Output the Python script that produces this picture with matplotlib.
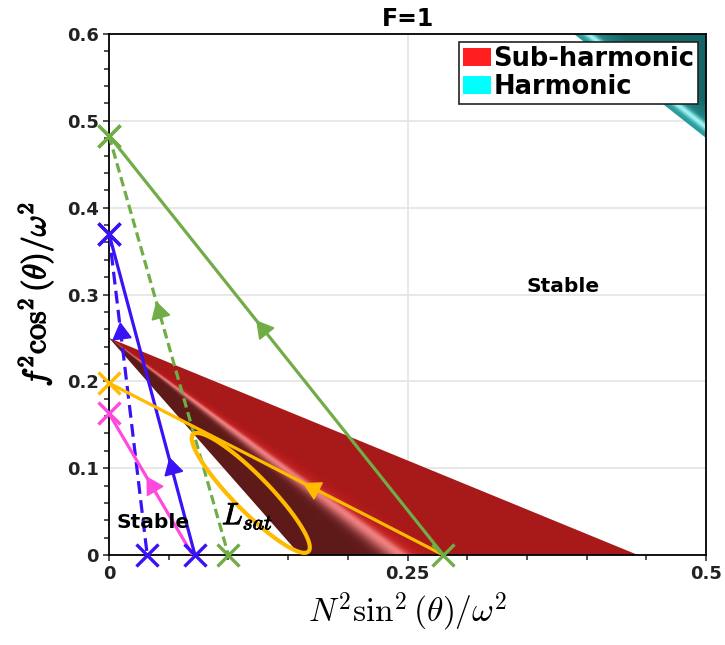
import numpy as np
import matplotlib.pyplot as plt
from matplotlib.patches import Polygon, Patch
import matplotlib.patheffects as pe

plt.rcParams['mathtext.fontset'] = 'cm'

# ---------------------------------------------------------
# DATA
# ---------------------------------------------------------

# sub-harmonic instability wedge (apex on the y axis, base on the x axis)
sub_apex_y = 0.25
sub_base_left = 0.16
sub_base_right = 0.443
sub_ridge = 0.245          # fold line of the shaded surface (where it meets y=0)

# harmonic region in the top right corner (edge line end points)
harm_x = [0.3895, 0.5]
harm_y = [0.6, 0.48]

# trajectories: (x on the x axis, y on the y axis), y of the arrow head
traj_names = ['green', 'green_dash', 'blue', 'blue_dash', 'pink', 'orange']
traj_x0 = [0.28, 0.10, 0.072, 0.032, 0.07, 0.28]
traj_y0 = [0.483, 0.483, 0.37, 0.37, 0.163, 0.198]
traj_arrow_y = [0.26, 0.28, 0.10, 0.256, 0.079, 0.077]
traj_colors = ['#70ad47', '#70ad47', '#3a12f5', '#3a12f5', '#ff48e0', '#ffbb00']
traj_styles = ['-', (0, (3, 1.5)), '-', (0, (4, 2)), '-', '-']

# extra start points on the x axis (marked only)
start_x = [0.032, 0.072, 0.10, 0.28]
start_colors = ['#3a12f5', '#3a12f5', '#70ad47', '#70ad47']

# saturation loop L_sat: two tips of the major axis and half width in px
lsat_tip1 = (0.0705, 0.139)
lsat_tip2 = (0.167, 0.004)
lsat_halfwidth_px = 18

# ---------------------------------------------------------
# FIGURE
# ---------------------------------------------------------

W, H = 725, 645
fig = plt.figure(figsize=(W / 100, H / 100), dpi=100)
ax = fig.add_axes([109 / W, 90 / H, 597 / W, 521 / H])
ax.set_xlim(0, 0.5)
ax.set_ylim(0, 0.6)

px_x = 597 / 0.5
px_y = 521 / 0.6

# grid
for gy in [0.1, 0.2, 0.3, 0.4, 0.5]:
    ax.axhline(gy, color='#e4e4e4', lw=1.2, zorder=0)
ax.axvline(0.25, color='#e4e4e4', lw=1.2, zorder=0)

# ---------------------------------------------------------
# SHADED REGIONS
# ---------------------------------------------------------

xs = np.linspace(0, 0.5, 900)
ys = np.linspace(0, 0.6, 1000)
X, Y = np.meshgrid(xs, ys)

# sub-harmonic: colour depends on where the ray from the apex meets y=0
x0 = X * sub_apex_y / np.maximum(sub_apex_y - Y, 1e-6)
dark = np.array([0.37, 0.10, 0.10])
red = np.array([0.66, 0.10, 0.10])
hi = np.array([0.93, 0.50, 0.50])
d = x0 - sub_ridge
w_lo = np.exp(-(d / 0.014) ** 2)[..., None]
w_hi = np.exp(-(d / 0.007) ** 2)[..., None]
w_red = np.exp(-(np.clip(d, 0, None) / 0.02) ** 2)[..., None]
col_lo = dark * (1 - w_lo) + hi * w_lo
mid_red = np.array([0.80, 0.14, 0.14])
col_hi = (red * (1 - w_red) + mid_red * w_red) * (1 - w_hi) + hi * w_hi
img = np.where((d < 0)[..., None], col_lo, col_hi)
im = ax.imshow(np.clip(img, 0, 1), origin='lower', extent=[0, 0.5, 0, 0.6],
               aspect='auto', interpolation='bilinear', zorder=1)
sub_poly = Polygon([(0, sub_apex_y), (sub_base_left, 0), (sub_base_right, 0)],
                   closed=True, transform=ax.transData, facecolor='none',
                   edgecolor='none')
ax.add_patch(sub_poly)
im.set_clip_path(sub_poly)

# harmonic: colour depends on pixel distance from the edge line
ex = (harm_x[1] - harm_x[0]) * px_x
ey = (harm_y[1] - harm_y[0]) * px_y
L = np.hypot(ex, ey)
dist = ((X - harm_x[0]) * px_x * (-ey) + (Y - harm_y[0]) * px_y * ex) / L
dist = np.abs(dist)
teal = np.array([0.16, 0.62, 0.62])
teal_dk = np.array([0.08, 0.40, 0.40])
cyan_hi = np.array([0.62, 0.96, 0.96])
t = np.clip(dist / 30, 0, 1)[..., None]
hcol = teal * (1 - t) + teal_dk * t
wh = np.exp(-((dist - 9) / 3.5) ** 2)[..., None]
hcol = hcol * (1 - wh) + cyan_hi * wh
im2 = ax.imshow(np.clip(hcol, 0, 1), origin='lower', extent=[0, 0.5, 0, 0.6],
                aspect='auto', interpolation='bilinear', zorder=1)
harm_poly = Polygon([(harm_x[0], harm_y[0]), (0.5, 0.6), (harm_x[1], harm_y[1])],
                    closed=True, transform=ax.transData, facecolor='none',
                    edgecolor='none')
ax.add_patch(harm_poly)
im2.set_clip_path(harm_poly)

# ---------------------------------------------------------
# TRAJECTORIES
# ---------------------------------------------------------

for xa, ya, yarr, c, ls in zip(traj_x0, traj_y0, traj_arrow_y, traj_colors, traj_styles):
    ax.plot([0, xa], [ya, 0], color=c, lw=2.3, linestyle=ls, zorder=3)
    # arrow head pointing from the x-axis end toward the y-axis end
    xarr = xa * (1 - yarr / ya)
    p0 = ax.transData.transform((xa, 0))
    p1 = ax.transData.transform((0, ya))
    ang = np.degrees(np.arctan2(p1[1] - p0[1], p1[0] - p0[0]))
    ax.plot(xarr, yarr, marker=(3, 0, ang - 90), markersize=15, color=c,
            linestyle='none', zorder=4)
    ax.plot(0, ya, marker='x', markersize=16, mew=2.4, color=c,
            linestyle='none', clip_on=False, zorder=5)

for xs0, c in zip(start_x, start_colors):
    ax.plot(xs0, 0, marker='x', markersize=16, mew=2.4, color=c,
            linestyle='none', clip_on=False, zorder=5)

# L_sat loop
c1 = np.array(lsat_tip1)
c2 = np.array(lsat_tip2)
cen = (c1 + c2) / 2
a_vec = (c1 - c2) / 2
a_px = np.array([a_vec[0] * px_x, a_vec[1] * px_y])
n_px = np.array([a_px[1], -a_px[0]]) / np.hypot(*a_px) * lsat_halfwidth_px
b_vec = np.array([n_px[0] / px_x, n_px[1] / px_y])
tt = np.linspace(0, 2 * np.pi, 300)
ex_x = cen[0] + a_vec[0] * np.cos(tt) + b_vec[0] * np.sin(tt)
ex_y = cen[1] + a_vec[1] * np.cos(tt) + b_vec[1] * np.sin(tt)
ax.plot(ex_x, ex_y, color='#ffbb00', lw=3.0, zorder=3)

# ---------------------------------------------------------
# TEXT
# ---------------------------------------------------------

ax.text(0.38, 0.309, 'Stable', fontsize=14.5, fontweight='bold', ha='center',
        va='center', zorder=6)
ax.text(0.037, 0.038, 'Stable', fontsize=14.5, fontweight='bold', ha='center',
        va='center', zorder=6)
ax.text(0.116, 0.045, r'$L_{sat}$', fontsize=22, ha='center', va='center',
        zorder=6, path_effects=[pe.withStroke(linewidth=0.7, foreground='black')])

ax.set_title('F=1', fontsize=17, fontweight='bold', pad=6)
ax.set_xlabel(r'$N^2\sin^2(\theta)/\omega^2$', fontsize=24, labelpad=5)
ylab = ax.set_ylabel(r'$f^2\cos^2(\theta)/\omega^2$', fontsize=23, labelpad=8)
ylab.set_path_effects([pe.withStroke(linewidth=0.9, foreground='black')])

# legend
handles = [Patch(facecolor='#ff1f1f', edgecolor='none', label='Sub-harmonic'),
           Patch(facecolor='#00ffff', edgecolor='none', label='Harmonic')]
leg = ax.legend(handles=handles, loc='upper right',
                prop={'weight': 'bold', 'size': 18.5}, fancybox=False,
                framealpha=1, edgecolor='#222222', borderaxespad=0.3,
                handlelength=1.1, handleheight=0.7, handletextpad=0.1,
                borderpad=0.15, labelspacing=0.1)
leg.get_frame().set_linewidth(1.2)
leg.set_zorder(10)

# axes formatting
ax.set_xticks([0, 0.25, 0.5])
ax.set_xticklabels(['0', '0.25', '0.5'])
ax.set_xticks(np.arange(0, 0.51, 0.05), minor=True)
ax.set_yticks(np.arange(0, 0.61, 0.1))
ax.set_yticklabels(['0', '0.1', '0.2', '0.3', '0.4', '0.5', '0.6'])
ax.set_yticks(np.arange(0, 0.61, 0.02), minor=True)
ax.tick_params(which='both', direction='out', length=4, width=1.2,
               color='#333333', labelsize=13)
ax.tick_params(which='minor', length=3.5)
for lab in ax.get_xticklabels() + ax.get_yticklabels():
    lab.set_fontweight('bold')
    lab.set_color('#222222')
for s in ax.spines.values():
    s.set_linewidth(1.3)

fig.savefig('out.png', dpi=100)
